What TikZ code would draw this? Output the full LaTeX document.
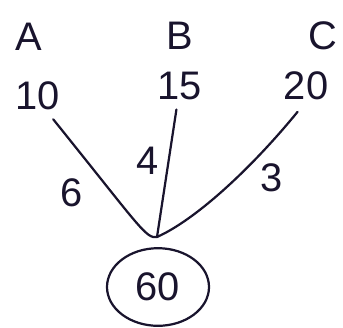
\documentclass[tikz,border=0pt]{standalone}
\usepackage{fontspec}
\setmainfont{Liberation Sans}
\usetikzlibrary{shapes.geometric}
\definecolor{ink}{RGB}{25,20,45}
\tikzset{
  lbl/.style={font=\fontsize{34}{36}\selectfont, text=ink, inner sep=1pt},
  wire/.style={draw=ink, line width=1.9pt, line cap=round},
}
\begin{document}
\begin{tikzpicture}[x=0.03cm, y=-0.03cm]
    \useasboundingbox (0,0) rectangle (343,327);
    % names
    \node[lbl] (A) at (29,37) {A};
    \node[lbl] (B) at (180,36) {B};
    \node[lbl] (C) at (323,36) {C};
    % amounts
    \node[lbl] (n10) at (38,96) {10};
    \node[lbl] (n15) at (180,86) {15};
    \node[lbl] (n20) at (306,86) {20};
    % total
    \node[lbl, ellipse, draw=ink, line width=1.9pt, minimum width=3.06cm, minimum height=2.13cm, inner sep=0.4cm] (tot) at (158,287) {60};
    \coordinate (j) at (157,237);
    \draw[wire, shorten <=0.3cm] (n10.-60) .. controls (140,227) and (146,239) .. (j);
    \draw[wire, shorten <=0.25cm] (n15) -- (j);
    \draw[wire, shorten <=0.4cm] (n20.south) .. controls (250,170) and (195,220) .. (j);
    % weights
    \node[lbl] (w6) at (72,193) {6};
    \node[lbl] (w4) at (148,161) {4};
    \node[lbl] (w3) at (272,178) {3};
\end{tikzpicture}
\end{document}
